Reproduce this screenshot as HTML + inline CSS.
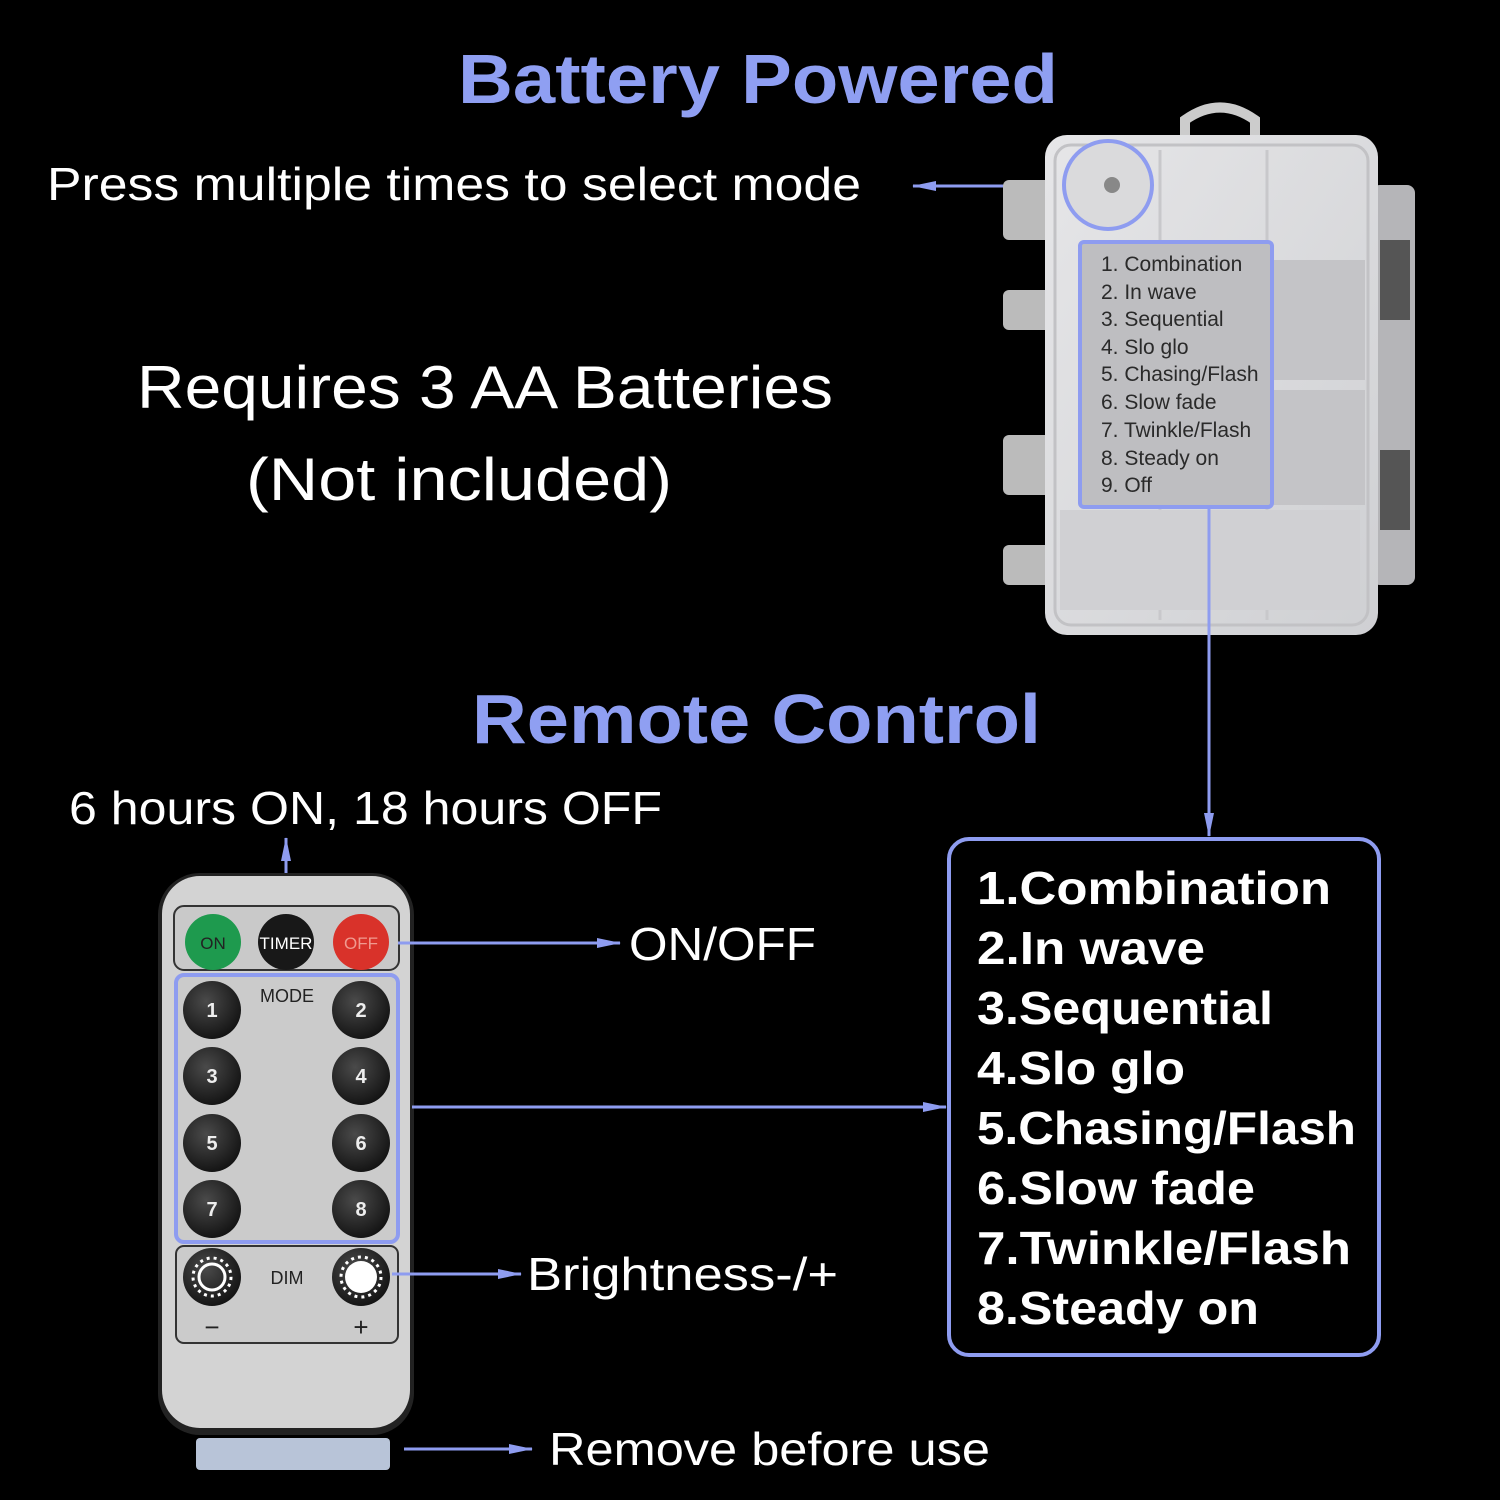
<!DOCTYPE html>
<html><head><meta charset="utf-8"><style>
html,body{margin:0;padding:0;background:#000;}
svg{display:block}
text{font-family:"Liberation Sans","DejaVu Sans",sans-serif;}
</style></head><body>
<svg width="1500" height="1500" viewBox="0 0 1500 1500" xmlns="http://www.w3.org/2000/svg">
<defs>
<marker id="ah" markerWidth="24" markerHeight="14" refX="23" refY="7" orient="auto" markerUnits="userSpaceOnUse" viewBox="0 0 24 14"><path d="M0,2 L24,7 L0,12 Z" fill="#8e9cf0"/></marker>
<linearGradient id="box" x1="0" y1="0" x2="1" y2="1"><stop offset="0" stop-color="#e6e6e8"/><stop offset="1" stop-color="#cfd0d3"/></linearGradient>
<radialGradient id="btn" cx="0.4" cy="0.35" r="0.7"><stop offset="0" stop-color="#4a4a4a"/><stop offset="1" stop-color="#111"/></radialGradient>
</defs>
<rect width="1500" height="1500" fill="#000"/>

<text x="458" y="103" font-size="70" font-weight="bold" fill="#8f9ff2" textLength="600" lengthAdjust="spacingAndGlyphs">Battery Powered</text>
<text x="47" y="200" font-size="46" fill="#fff" textLength="814" lengthAdjust="spacingAndGlyphs">Press multiple times to select mode</text>
<line x1="1063" y1="186" x2="913" y2="186" stroke="#8e9cf0" stroke-width="3" marker-end="url(#ah)"/>

<text x="137" y="408" font-size="60" fill="#fff" textLength="696" lengthAdjust="spacingAndGlyphs">Requires 3 AA Batteries</text>
<text x="246" y="500" font-size="60" fill="#fff" textLength="426" lengthAdjust="spacingAndGlyphs">(Not included)</text>

<!-- battery box -->
<path d="M1185,135 L1185,120 Q1220,95 1255,120 L1255,135" fill="none" stroke="#ccc" stroke-width="10"/>
<rect x="1003" y="180" width="48" height="60" rx="6" fill="#bbb"/>
<rect x="1003" y="290" width="48" height="40" rx="6" fill="#bbb"/>
<rect x="1003" y="435" width="48" height="60" rx="6" fill="#bbb"/>
<rect x="1003" y="545" width="48" height="40" rx="6" fill="#bbb"/>
<rect x="1372" y="185" width="43" height="400" rx="8" fill="#b5b5b8"/>
<rect x="1380" y="240" width="30" height="80" fill="#555"/>
<rect x="1380" y="450" width="30" height="80" fill="#555"/>
<rect x="1045" y="135" width="333" height="500" rx="22" fill="url(#box)"/>
<rect x="1055" y="145" width="313" height="480" rx="16" fill="none" stroke="#c2c2c5" stroke-width="3"/>
<line x1="1160" y1="150" x2="1160" y2="620" stroke="#c8c8cb" stroke-width="3"/>
<line x1="1267" y1="150" x2="1267" y2="620" stroke="#c8c8cb" stroke-width="3"/>
<rect x="1270" y="260" width="95" height="120" fill="#c4c4c7"/>
<rect x="1270" y="390" width="95" height="115" fill="#c4c4c7"/>
<rect x="1060" y="510" width="300" height="100" fill="#d0d0d3"/>
<circle cx="1108" cy="185" r="44" fill="#dadadc" stroke="#8e9cf0" stroke-width="4"/>
<circle cx="1112" cy="185" r="8" fill="#888"/>
<rect x="1080" y="242" width="192" height="265" rx="4" fill="#bebec1" stroke="#8e9cf0" stroke-width="4"/>
<g font-size="21" fill="#2a2a2a">
<text x="1101" y="271">1. Combination</text>
<text x="1101" y="299">2. In wave</text>
<text x="1101" y="326">3. Sequential</text>
<text x="1101" y="354">4. Slo glo</text>
<text x="1101" y="381">5. Chasing/Flash</text>
<text x="1101" y="409">6. Slow fade</text>
<text x="1101" y="437">7. Twinkle/Flash</text>
<text x="1101" y="465">8. Steady on</text>
<text x="1101" y="492">9. Off</text>
</g>
<line x1="1209" y1="507" x2="1209" y2="836" stroke="#8e9cf0" stroke-width="3" marker-end="url(#ah)"/>

<text x="472" y="743" font-size="70" font-weight="bold" fill="#8f9ff2" textLength="569" lengthAdjust="spacingAndGlyphs">Remote Control</text>
<text x="69" y="824" font-size="46" fill="#fff" textLength="593" lengthAdjust="spacingAndGlyphs">6 hours ON, 18 hours OFF</text>
<line x1="286" y1="912" x2="286" y2="838" stroke="#8e9cf0" stroke-width="3" marker-end="url(#ah)"/>

<!-- remote -->
<rect x="196" y="1438" width="194" height="32" rx="4" fill="#b8c4d8"/>
<rect x="158" y="873" width="256" height="562" rx="42" fill="#222"/>
<rect x="162" y="876" width="248" height="552" rx="38" fill="#d3d3d3"/>
<rect x="174" y="906" width="225" height="64" rx="10" fill="#c9c9c9" stroke="#333" stroke-width="2"/>
<circle cx="213" cy="942" r="28" fill="#1e9a4e"/>
<circle cx="286" cy="942" r="28" fill="#181818"/>
<circle cx="361" cy="942" r="28" fill="#d9322a"/>
<text x="213" y="949" font-size="17" fill="#222" text-anchor="middle">ON</text>
<text x="286" y="949" font-size="17" fill="#fff" text-anchor="middle">TIMER</text>
<text x="361" y="949" font-size="17" fill="#f09a90" text-anchor="middle">OFF</text>
<rect x="176" y="975" width="222" height="267" rx="8" fill="#cbcbcb" stroke="#8e9cf0" stroke-width="4"/>
<text x="287" y="1002" font-size="18" fill="#222" text-anchor="middle">MODE</text>
<g font-size="20" font-weight="bold" fill="#eee" text-anchor="middle">
<circle cx="212" cy="1010" r="29" fill="url(#btn)"/><text x="212" y="1017">1</text>
<circle cx="361" cy="1010" r="29" fill="url(#btn)"/><text x="361" y="1017">2</text>
<circle cx="212" cy="1076" r="29" fill="url(#btn)"/><text x="212" y="1083">3</text>
<circle cx="361" cy="1076" r="29" fill="url(#btn)"/><text x="361" y="1083">4</text>
<circle cx="212" cy="1143" r="29" fill="url(#btn)"/><text x="212" y="1150">5</text>
<circle cx="361" cy="1143" r="29" fill="url(#btn)"/><text x="361" y="1150">6</text>
<circle cx="212" cy="1209" r="29" fill="url(#btn)"/><text x="212" y="1216">7</text>
<circle cx="361" cy="1209" r="29" fill="url(#btn)"/><text x="361" y="1216">8</text>
</g>
<rect x="176" y="1246" width="222" height="97" rx="8" fill="#cbcbcb" stroke="#333" stroke-width="2"/>
<circle cx="212" cy="1277" r="29" fill="url(#btn)"/>
<circle cx="212" cy="1277" r="13" fill="none" stroke="#fff" stroke-width="3"/>
<circle cx="212" cy="1277" r="19" fill="none" stroke="#fff" stroke-width="3" stroke-dasharray="3 4"/>
<circle cx="361" cy="1277" r="29" fill="url(#btn)"/>
<circle cx="361" cy="1277" r="16" fill="#fff"/>
<circle cx="361" cy="1277" r="20" fill="none" stroke="#fff" stroke-width="3" stroke-dasharray="3 4"/>
<text x="287" y="1284" font-size="18" fill="#222" text-anchor="middle">DIM</text>
<text x="212" y="1336" font-size="26" fill="#222" text-anchor="middle">−</text>
<text x="361" y="1336" font-size="26" fill="#222" text-anchor="middle">+</text>

<line x1="398" y1="943" x2="620" y2="943" stroke="#8e9cf0" stroke-width="3" marker-end="url(#ah)"/>
<text x="629" y="960" font-size="46" fill="#fff" textLength="187" lengthAdjust="spacingAndGlyphs">ON/OFF</text>
<line x1="412" y1="1107" x2="946" y2="1107" stroke="#8e9cf0" stroke-width="3" marker-end="url(#ah)"/>
<line x1="392" y1="1274" x2="521" y2="1274" stroke="#8e9cf0" stroke-width="3" marker-end="url(#ah)"/>
<text x="527" y="1290" font-size="46" fill="#fff" textLength="311" lengthAdjust="spacingAndGlyphs">Brightness-/+</text>
<line x1="404" y1="1449" x2="532" y2="1449" stroke="#8e9cf0" stroke-width="3" marker-end="url(#ah)"/>
<text x="549" y="1465" font-size="46" fill="#fff" textLength="441" lengthAdjust="spacingAndGlyphs">Remove before use</text>

<rect x="949" y="839" width="430" height="516" rx="20" fill="#000" stroke="#8e9cf0" stroke-width="4"/>
<g font-size="46" font-weight="bold" fill="#fff">
<text x="977" y="904" textLength="354" lengthAdjust="spacingAndGlyphs">1.Combination</text>
<text x="977" y="964" textLength="228" lengthAdjust="spacingAndGlyphs">2.In wave</text>
<text x="977" y="1024" textLength="296" lengthAdjust="spacingAndGlyphs">3.Sequential</text>
<text x="977" y="1084" textLength="208" lengthAdjust="spacingAndGlyphs">4.Slo glo</text>
<text x="977" y="1144" textLength="379" lengthAdjust="spacingAndGlyphs">5.Chasing/Flash</text>
<text x="977" y="1204" textLength="278" lengthAdjust="spacingAndGlyphs">6.Slow fade</text>
<text x="977" y="1264" textLength="374" lengthAdjust="spacingAndGlyphs">7.Twinkle/Flash</text>
<text x="977" y="1324" textLength="282" lengthAdjust="spacingAndGlyphs">8.Steady on</text>
</g>
</svg>
</body></html>
